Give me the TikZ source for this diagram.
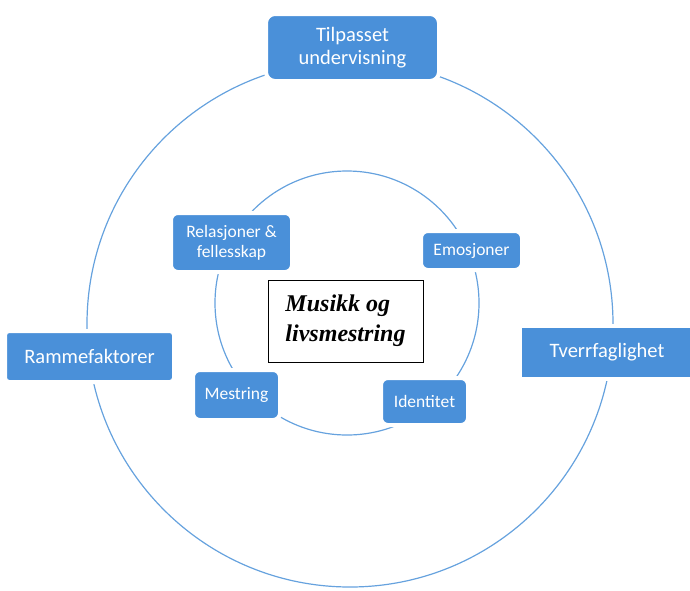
\documentclass[tikz,border=0pt]{standalone}
\usepackage{fontspec}
\setmainfont{Carlito}
\newfontfamily\titleserif{Liberation Serif}
\definecolor{boxblue}{RGB}{74,144,217}
\definecolor{ringblue}{RGB}{102,162,222}

\begin{document}
\begin{tikzpicture}[x=1pt,y=-1pt,
  ring/.style={draw=ringblue, line width=1.2pt},
  bigbox/.style={fill=boxblue, draw=white, line width=4pt, text=white, align=center,
    inner sep=0pt, rounded corners=9pt, font=\fontsize{20.5}{23}\selectfont},
  smallbox/.style={bigbox, rounded corners=7pt, font=\fontsize{17.5}{20}\selectfont},
  titlebox/.style={draw=black, line width=1pt, fill=white, align=left, inner sep=0pt,
    font=\titleserif\bfseries\itshape\fontsize{24}{30}\selectfont}]
  \useasboundingbox (0,0) rectangle (690,590);
  \coordinate (outer) at (350,324);
  \coordinate (inner) at (347,303);
  \draw[ring] (outer) circle (263pt);
  \draw[ring] (inner) circle (132pt);
  % outer ring
  \node[bigbox, minimum width=173pt, minimum height=67pt] (tilpasset) at (352.5,47.5) {Tilpasset\\undervisning};
  \node[bigbox, rounded corners=4pt, minimum width=169pt, minimum height=51pt] (ramme) at (89.5,356.5) {Rammefaktorer};
  \node[bigbox, sharp corners, minimum width=174pt, minimum height=53pt] (tverr) at (607,352.5) {Tverrfaglighet};
  % inner ring
  \foreach \n/\x/\y/\w/\h/\t in {relasjoner/231.5/242.5/121/59/{Relasjoner \&\\fellesskap},
      emosjoner/471.5/250.5/101/39/Emosjoner, mestring/236.5/395/87/50/Mestring,
      identitet/424.5/401.5/87/47/Identitet}
    \node[smallbox, minimum width=\w pt, minimum height=\h pt] (\n) at (\x,\y) {\t};
  \node[titlebox, minimum width=155pt, minimum height=82pt] (musikk) at (345.5,321) {Musikk og\\livsmestring};
\end{tikzpicture}
\end{document}
